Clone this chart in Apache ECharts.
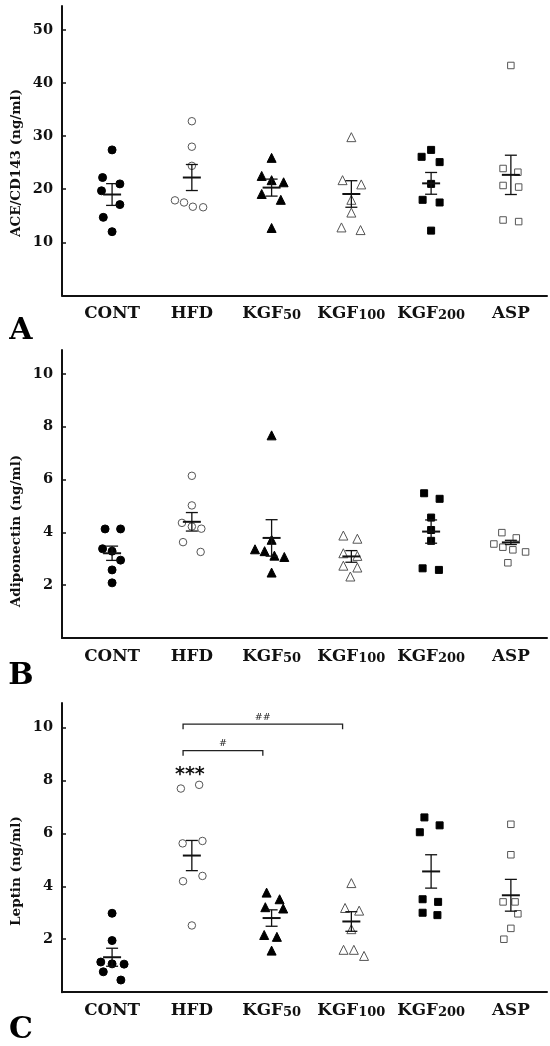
<!DOCTYPE html>
<html>
<head>
<meta charset="utf-8">
<script src="https://cdn.jsdelivr.net/npm/echarts@6/dist/echarts.min.js"></script>
<style>
  html, body { margin: 0; padding: 0; background: #fff; }
  #chart { width: 550px; height: 1046px; }
</style>
</head>
<body>
<div id="chart"></div>
<script>
// groups on the x axis
const groups = ['CONT', 'HFD', 'KGF50', 'KGF100', 'KGF200', 'ASP'];

// A: ACE/CD143 (ng/ml), one row per group
const aceValues = [
  [27.4, 22.2, 19.7, 21.0, 17.1, 14.7, 12.0],
  [32.8, 28.0, 24.4, 17.9, 17.5, 16.7, 16.6],
  [25.9, 22.5, 21.7, 21.3, 19.1, 18.0, 12.7],
  [29.8, 21.7, 20.9, 18.0, 15.6, 12.8, 12.3],
  [27.4, 26.1, 25.1, 21.0, 18.0, 17.5, 12.2],
  [43.3, 23.9, 23.2, 20.7, 20.4, 14.2, 13.9]
];
const aceMean = [19.0, 22.2, 20.3, 19.1, 21.1, 22.7];
const aceSem = [2.05, 2.45, 1.6, 2.5, 2.05, 3.7];

// B: Adiponectin (ng/ml)
const adipoValues = [
  [4.13, 4.13, 3.38, 3.29, 2.95, 2.58, 2.09],
  [6.14, 5.02, 4.36, 4.22, 4.14, 3.63, 3.26],
  [7.67, 3.36, 3.29, 3.72, 3.12, 3.07, 2.48],
  [3.88, 3.76, 3.21, 3.11, 2.74, 2.67, 2.33],
  [5.48, 5.27, 4.56, 4.09, 3.68, 2.64, 2.58],
  [3.99, 3.79, 3.56, 3.44, 3.34, 3.26, 2.85]
];
const adipoMean = [3.21, 4.40, 3.79, 3.09, 4.03, 3.62];
const adipoSem = [0.27, 0.35, 0.69, 0.22, 0.44, 0.08];

// C: Leptin (ng/ml)
const leptinValues = [
  [2.98, 1.95, 1.14, 1.07, 1.06, 0.77, 0.46],
  [7.69, 7.83, 5.62, 5.71, 4.19, 4.39, 2.52],
  [3.76, 3.51, 3.21, 3.16, 2.16, 2.09, 1.57],
  [4.12, 3.18, 3.08, 2.38, 1.60, 1.60, 1.37],
  [6.60, 6.30, 6.04, 3.51, 3.41, 3.00, 2.91],
  [6.34, 5.19, 3.41, 3.41, 2.96, 2.41, 2.00]
];
const leptinMean = [1.32, 5.16, 2.80, 2.67, 4.56, 3.66];
const leptinSem = [0.34, 0.57, 0.31, 0.37, 0.63, 0.60];

// significance marks on C
const leptinBrackets = [
  { from: 1, to: 2, y: 9.12, label: '#' },
  { from: 1, to: 3, y: 10.12, label: '##' }
];
const leptinStars = [{ group: 1, y: 8.2, label: '***' }];

// tick steps of the y axes
const aceTicks = { max: 54.5, interval: 10 };
const adipoTicks = { max: 10.9, interval: 2 };
const leptinTicks = { max: 10.92, interval: 2 };

// horizontal scatter of the dots, in px (layout only)
const aceJitter = [
  [0, -9.5, -10.6, 7.8, 7.8, -8.8, 0],
  [0, 0, 0, -16.9, -7.8, 1, 11.3],
  [0, -9.9, 0, 12, -9.9, 9.2, 0],
  [0, -8.8, 9.9, 0, 0, -9.9, 9.2],
  [0, -9.5, 8.5, 0, -8.5, 8.5, 0],
  [0, -7.8, 7, -7.8, 7.8, -7.8, 7.8]
];
const adipoJitter = [
  [-7, 8.5, -9.5, 0, 8.5, 0, 0],
  [0, 0, -9.9, 0, 9.5, -8.8, 8.8],
  [0, -16.6, -7, 0, 2.8, 12.7, 0],
  [-8, 6, -8, 6, -8, 6, -1],
  [-7, 8.5, 0, 0, 0, -8.5, 7.8],
  [-9, 5.4, -17, -8, 2, 14.7, -3]
];
const leptinJitter = [
  [0, 0, -11.3, 0, 12, -8.8, 8.8],
  [-11, 7.3, -9.2, 10.6, -8.8, 10.6, 0],
  [-5, 8, -6.3, 11.6, -7.4, 5.3, 0],
  [0, -6.3, 7.8, 0, -7.8, 2.5, 12.7],
  [-6.7, 8.5, -11.3, -8.5, 7, -8.5, 6.3],
  [0, 0, -7.8, 4.2, 7, 0, -7]
];

const SERIF = '"DejaVu Serif", "Liberation Serif", serif';
const INK = '#111';

const markers = [
  { symbol: 'circle', size: 8, fill: '#000', stroke: '#000' },
  { symbol: 'circle', size: 7.5, fill: '#fff', stroke: '#555' },
  { symbol: 'triangle', size: 9, fill: '#000', stroke: '#000' },
  { symbol: 'triangle', size: 9, fill: '#fff', stroke: '#555' },
  { symbol: 'rect', size: 7, fill: '#000', stroke: '#000' },
  { symbol: 'rect', size: 6.5, fill: '#fff', stroke: '#555' }
];

const panels = [
  { values: aceValues, mean: aceMean, sem: aceSem, jitter: aceJitter, ticks: aceTicks,
    top: 6, height: 289.4, name: 'ACE/CD143 (ng/ml)', nameY: 163, letter: 'A', letterY: 331 },
  { values: adipoValues, mean: adipoMean, sem: adipoSem, jitter: adipoJitter, ticks: adipoTicks,
    top: 350, height: 288.1, name: 'Adiponectin (ng/ml)', nameY: 531, letter: 'B', letterY: 676 },
  { values: leptinValues, mean: leptinMean, sem: leptinSem, jitter: leptinJitter, ticks: leptinTicks,
    top: 703, height: 289.2, name: 'Leptin (ng/ml)', nameY: 871, letter: 'C', letterY: 1030 }
];

// "KGF50" -> letters normal size, digits smaller (as in the figure)
function groupLabel(name) {
  const m = name.match(/^(\D+)(\d*)$/);
  return m[2] ? '{a|' + m[1] + '}{b|' + m[2] + '}' : '{a|' + name + '}';
}

const grid = [], xAxis = [], yAxis = [], series = [], graphic = [];

panels.forEach((p, i) => {
  grid.push({ left: 62, right: 3, top: p.top, height: p.height, containLabel: false, outerBoundsMode: 'none' });

  xAxis.push({
    gridIndex: i, type: 'value', min: -0.628, max: 5.453,
    axisLine: { onZero: false, lineStyle: { color: INK, width: 2 } },
    axisTick: { show: false },
    splitLine: { show: false },
    axisLabel: {
      customValues: [0, 1, 2, 3, 4, 5],
      formatter: v => groupLabel(groups[Math.round(v)]),
      margin: 18.5,
      verticalAlign: 'middle',
      rich: {
        a: { fontFamily: SERIF, fontWeight: 'bold', fontSize: 16.8, color: INK, verticalAlign: 'bottom' },
        b: { fontFamily: SERIF, fontWeight: 'bold', fontSize: 13, color: INK, verticalAlign: 'bottom' }
      }
    }
  });

  yAxis.push({
    gridIndex: i, type: 'value', min: 0, max: p.ticks.max, interval: p.ticks.interval,
    axisLine: { show: true, onZero: false, lineStyle: { color: INK, width: 2 } },
    axisTick: { show: true, inside: true, length: 4, lineStyle: { color: INK, width: 1.5 } },
    splitLine: { show: false },
    axisLabel: {
      showMinLabel: false, showMaxLabel: false, margin: 9,
      fontFamily: SERIF, fontWeight: 'bold', fontSize: 14.5, color: INK
    }
  });

  // individual animals
  p.values.forEach((vals, g) => {
    const mk = markers[g];
    series.push({
      type: 'scatter', xAxisIndex: i, yAxisIndex: i, z: 3, silent: true,
      symbol: mk.symbol, symbolSize: mk.size,
      itemStyle: { color: mk.fill, borderColor: mk.stroke, borderWidth: 1, opacity: 1 },
      data: vals.map((v, k) => ({ value: [g, v], symbolOffset: [p.jitter[g][k], 0] }))
    });
  });

  // mean +/- SEM
  series.push({
    type: 'custom', xAxisIndex: i, yAxisIndex: i, z: 4, silent: true,
    data: p.mean.map((m, g) => [g, m, p.sem[g]]),
    encode: { x: 0, y: 1 },
    renderItem: (params, api) => {
      const g = api.value(0), m = api.value(1), s = api.value(2);
      const c = api.coord([g, m]);
      const t = api.coord([g, m + s]);
      const b = api.coord([g, m - s]);
      const thin = { stroke: INK, lineWidth: 1.3 };
      return {
        type: 'group',
        children: [
          { type: 'line', shape: { x1: c[0], y1: t[1], x2: c[0], y2: b[1] }, style: thin },
          { type: 'line', shape: { x1: c[0] - 6, y1: t[1], x2: c[0] + 6, y2: t[1] }, style: thin },
          { type: 'line', shape: { x1: c[0] - 6, y1: b[1], x2: c[0] + 6, y2: b[1] }, style: thin },
          { type: 'line', shape: { x1: c[0] - 9, y1: c[1], x2: c[0] + 9, y2: c[1] }, style: { stroke: INK, lineWidth: 2 } }
        ]
      };
    }
  });

  graphic.push({
    type: 'text', x: 16, y: p.nameY, rotation: Math.PI / 2, silent: true,
    style: { text: p.name, fontFamily: SERIF, fontWeight: 'bold', fontSize: 13.5, fill: INK,
             textAlign: 'center', textVerticalAlign: 'middle' }
  });
  graphic.push({
    type: 'text', x: 21, y: p.letterY, silent: true,
    style: { text: p.letter, fontFamily: SERIF, fontWeight: 'bold', fontSize: 30, fill: '#000',
             textAlign: 'center', textVerticalAlign: 'middle' }
  });
});

// brackets and stars on panel C
const inset = 0.11;
series.push({
  type: 'custom', xAxisIndex: 2, yAxisIndex: 2, z: 5, silent: true, clip: false,
  data: leptinBrackets.map(b => [b.from, b.to, b.y]),
  encode: { x: [0, 1], y: 2 },
  renderItem: (params, api) => {
    const b = leptinBrackets[params.dataIndex];
    const p1 = api.coord([api.value(0) - inset, api.value(2)]);
    const p2 = api.coord([api.value(1) - inset, api.value(2)]);
    return {
      type: 'group',
      children: [
        { type: 'polyline',
          shape: { points: [[p1[0], p1[1] + 5], [p1[0], p1[1]], [p2[0], p2[1]], [p2[0], p2[1] + 5]] },
          style: { stroke: '#222', lineWidth: 1.3, fill: null } },
        { type: 'text', x: (p1[0] + p2[0]) / 2, y: p1[1] - 7,
          style: { text: b.label, fontFamily: '"DejaVu Sans", sans-serif', fontSize: 9.5, fill: '#222',
                   textAlign: 'center', textVerticalAlign: 'middle' } }
      ]
    };
  }
});
series.push({
  type: 'custom', xAxisIndex: 2, yAxisIndex: 2, z: 5, silent: true, clip: false,
  data: leptinStars.map(s => [s.group, s.y]),
  encode: { x: 0, y: 1 },
  renderItem: (params, api) => {
    const c = api.coord([api.value(0), api.value(1)]);
    return {
      type: 'text', x: c[0] - 2, y: c[1],
      style: { text: leptinStars[params.dataIndex].label, fontFamily: '"DejaVu Sans", sans-serif',
               fontWeight: 'bold', fontSize: 19, fill: '#111', textAlign: 'center', textVerticalAlign: 'middle' }
    };
  }
});

const chart = echarts.init(document.getElementById('chart'), null, { renderer: 'canvas' });
chart.setOption({
  animation: false,
  backgroundColor: '#fff',
  grid, xAxis, yAxis, series, graphic
});
</script>
</body>
</html>
